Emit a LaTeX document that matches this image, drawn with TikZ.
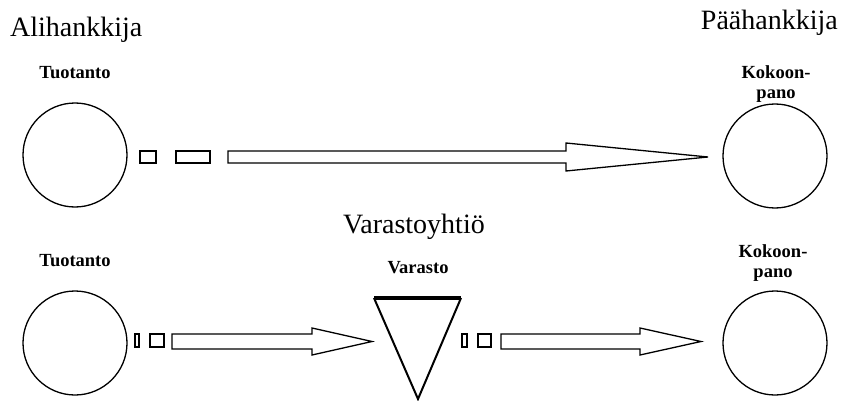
\documentclass[tikz,border=0pt]{standalone}
\usepackage{fontspec}
\setmainfont{Liberation Serif}
\usepackage{tikz}
\usetikzlibrary{positioning,calc}
\newcommand{\blockarr}[6]{% #1 tail x, #2 neck x, #3 tip x, #4 axis y, #5 shaft half, #6 head half
  \draw[line width=1.3pt, line join=miter] (#1,#4-#5) -- (#2,#4-#5) -- (#2,#4-#6) -- (#3,#4)
    -- (#2,#4+#6) -- (#2,#4+#5) -- (#1,#4+#5) -- cycle;
}
\newcommand{\gapbox}[4]{% #1 left x, #2 top y, #3 right x, #4 bottom y
  \draw[line width=1.3pt] (#1,#2) rectangle (#3,#4);
}

\begin{document}
\begin{tikzpicture}[x=1pt,y=-1pt,
    party/.style={font=\fontsize{28}{32}\selectfont, inner sep=0pt},
    unit/.style={font=\fontsize{18.5}{20}\selectfont\bfseries, inner sep=0pt, align=center},
    proc/.style={circle, draw, line width=1.3pt, minimum size=104pt, inner sep=0pt}]
  \useasboundingbox (0,0) rectangle (843,401);
  % companies
  \node[party, anchor=base west] (ali) at (10,37) {Alihankkija};
  \node[party, anchor=base east] (paa) at (838,30) {Päähankkija};
  \node[party, anchor=base] (vyh) at (414,233) {Varastoyhtiö};
  % direct delivery
  \node[unit, anchor=base] (tuoA) at (75,79) {Tuotanto};
  \node[proc] (prodA) at (75,155) {};
  \node[unit, anchor=north] (kokA) at (776,65) {Kokoon-\\pano};
  \node[proc] (asmA) at (775,156) {};
  \gapbox{140}{151}{156}{163}
  \gapbox{176}{151}{210}{163}
  \blockarr{228}{566}{708}{157}{6}{14}
  % via warehouse
  \node[unit, anchor=base] (tuoB) at (75,266) {Tuotanto};
  \node[proc] (prodB) at (75,343) {};
  \node[unit, anchor=base] (var) at (418,273) {Varasto};
  \coordinate (tl) at (374,298);
  \coordinate (tr) at (461,298);
  \coordinate (tip) at (418,399);
  \draw[line width=2pt, line join=miter] (tl) -- (tip) -- (tr);
  \draw[line width=3.2pt] (tl) -- (tr);
  \node[unit, anchor=north] (kokB) at (773,244) {Kokoon-\\pano};
  \node[proc] (asmB) at (775,343) {};
  \gapbox{135}{334}{139}{347}
  \gapbox{150}{334}{164}{347}
  \blockarr{172}{312}{372}{341.5}{7.5}{13.5}
  \gapbox{462}{334}{467}{347}
  \gapbox{478}{334}{491}{347}
  \blockarr{501}{640}{701}{341.5}{7.5}{13.5}
\end{tikzpicture}
\end{document}
